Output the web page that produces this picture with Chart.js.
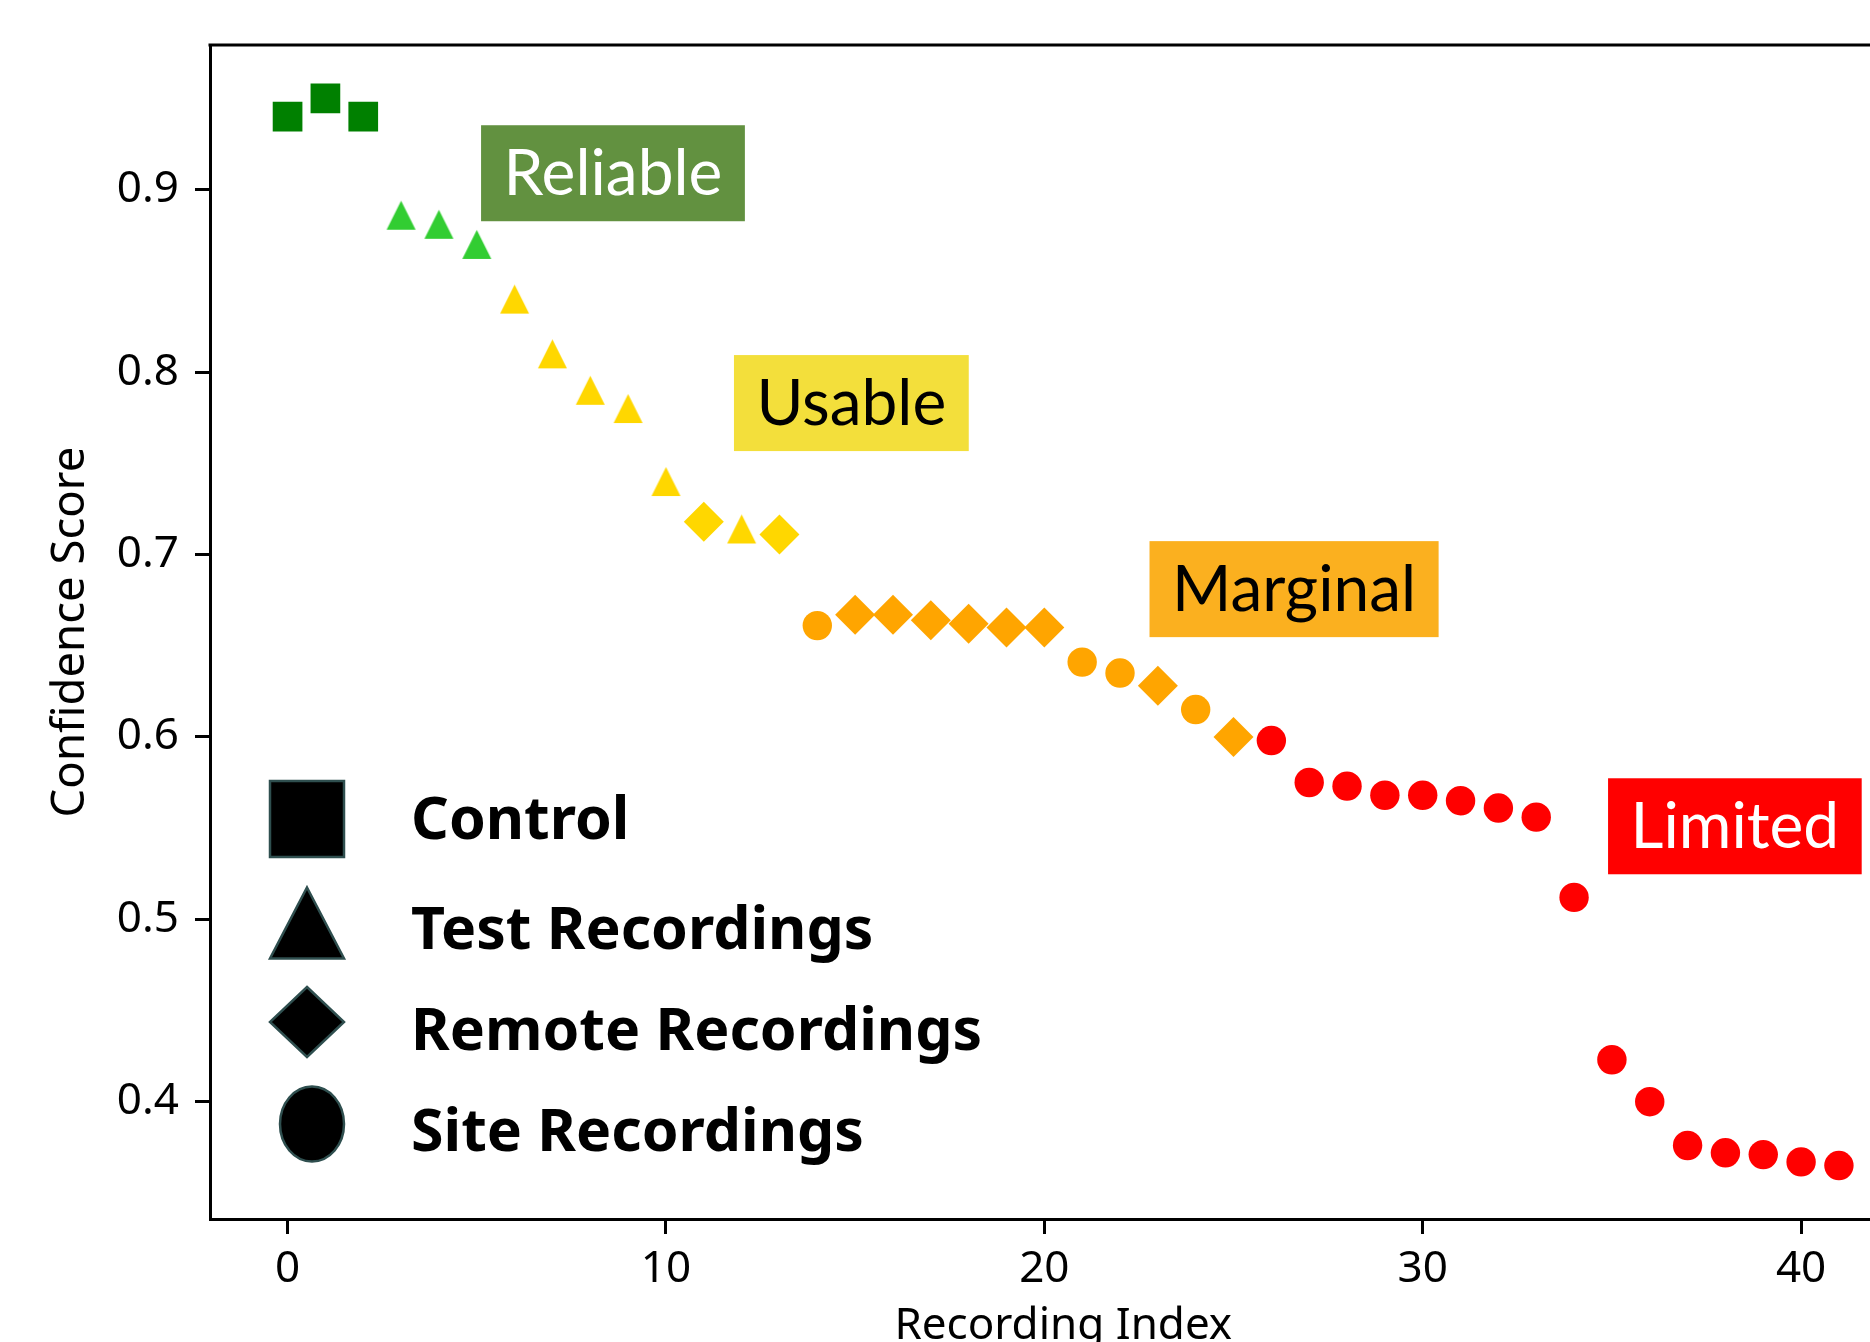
<!DOCTYPE html>
<html>
<head>
<meta charset="utf-8">
<title>Confidence Score by Recording</title>
<script src="https://cdn.jsdelivr.net/npm/chart.js@4.4.1/dist/chart.umd.min.js"></script>
<style>
  html, body { margin: 0; padding: 0; background: #fff; overflow: hidden; }
  #wrap { width: 1930px; height: 1400px; }
</style>
</head>
<body>
<div id="wrap"><canvas id="scoreChart" width="1930" height="1400"></canvas></div>
<script>
// values
const recordingIndex = [0, 1, 2, 3, 4, 5, 6, 7, 8, 9, 10, 11, 12, 13, 14, 15, 16, 17, 18, 19, 20,
  21, 22, 23, 24, 25, 26, 27, 28, 29, 30, 31, 32, 33, 34, 35, 36, 37, 38, 39, 40, 41];

const confidence = [0.940, 0.950, 0.940, 0.886, 0.881, 0.870, 0.840, 0.810, 0.790, 0.780,
  0.740, 0.718, 0.714, 0.711, 0.661, 0.667, 0.667, 0.664, 0.662, 0.660, 0.660,
  0.641, 0.635, 0.628, 0.615, 0.600, 0.598, 0.575, 0.573, 0.568, 0.568,
  0.565, 0.561, 0.556, 0.512, 0.423, 0.400, 0.376, 0.372, 0.371, 0.367, 0.365];

const recordingType = ['Control', 'Control', 'Control',
  'Test', 'Test', 'Test', 'Test', 'Test', 'Test', 'Test', 'Test',
  'Remote', 'Test', 'Remote', 'Site',
  'Remote', 'Remote', 'Remote', 'Remote', 'Remote', 'Remote',
  'Site', 'Site', 'Remote', 'Site', 'Remote',
  'Site', 'Site', 'Site', 'Site', 'Site', 'Site', 'Site', 'Site',
  'Site', 'Site', 'Site', 'Site', 'Site', 'Site', 'Site', 'Site'];

const tier = ['Reliable', 'Reliable', 'Reliable', 'Reliable', 'Reliable', 'Reliable',
  'Usable', 'Usable', 'Usable', 'Usable', 'Usable', 'Usable', 'Usable', 'Usable',
  'Marginal', 'Marginal', 'Marginal', 'Marginal', 'Marginal', 'Marginal',
  'Marginal', 'Marginal', 'Marginal', 'Marginal', 'Marginal', 'Marginal',
  'Limited', 'Limited', 'Limited', 'Limited', 'Limited', 'Limited', 'Limited', 'Limited',
  'Limited', 'Limited', 'Limited', 'Limited', 'Limited', 'Limited', 'Limited', 'Limited'];

const typeKeys = ['Control', 'Test', 'Remote', 'Site'];
const typeLabels = ['Control', 'Test Recordings', 'Remote Recordings', 'Site Recordings'];

// tier label boxes (placed in data coordinates)
const tierNames = ['Reliable', 'Usable', 'Marginal', 'Limited'];
const tierLabelX = [8.6, 14.9, 26.6, 38.25];
const tierLabelY = [0.909, 0.783, 0.681, 0.551];

const xTicks = [0, 10, 20, 30, 40];
const yTicks = [0.4, 0.5, 0.6, 0.7, 0.8, 0.9];

// styles
const controlColor = '#008000';
const tierPointColor = { Reliable: '#32CD32', Usable: '#FFD700', Marginal: '#FFA500', Limited: '#FF0000' };
const tierBoxColor = { Reliable: '#629140', Usable: '#F3DF3B', Marginal: '#FBB01F', Limited: '#FF0000' };
const tierTextColor = { Reliable: '#FFFFFF', Usable: '#000000', Marginal: '#000000', Limited: '#FFFFFF' };

function pointColor(p) {
  return p.type === 'Control' ? controlColor : tierPointColor[p.tier];
}

// matplotlib-like '^' marker (width == height), cached per colour
const triCache = {};
function triangleMarker(color, size) {
  const key = color + size;
  if (triCache[key]) return triCache[key];
  const c = document.createElement('canvas');
  c.width = size + 4;
  c.height = size + 4;
  const g = c.getContext('2d');
  g.beginPath();
  g.moveTo(c.width / 2, 2);
  g.lineTo(2, size + 2);
  g.lineTo(size + 2, size + 2);
  g.closePath();
  g.fillStyle = color;
  g.fill();
  triCache[key] = c;
  return c;
}

const datasets = typeKeys.map((key, k) => {
  const pts = [];
  recordingIndex.forEach((x, i) => {
    if (recordingType[i] === key) pts.push({ x: x, y: confidence[i], type: key, tier: tier[i] });
  });
  const ds = {
    label: typeLabels[k],
    data: pts,
    borderWidth: 0,
    backgroundColor: ctx => pointColor(ctx.raw),
    borderColor: ctx => pointColor(ctx.raw)
  };
  if (key === 'Control') { ds.pointStyle = 'rect'; ds.pointRadius = 21; }
  if (key === 'Test') { ds.pointStyle = ctx => triangleMarker(pointColor(ctx.raw), 29); ds.pointRadius = 15; }
  if (key === 'Remote') { ds.pointStyle = 'rectRot'; ds.pointRadius = 20; }
  if (key === 'Site') { ds.pointStyle = 'circle'; ds.pointRadius = 14.7; }
  return ds;
});

// top frame line (matplotlib box)
const framePlugin = {
  id: 'frame',
  afterDraw(chart) {
    const { ctx, chartArea: a } = chart;
    ctx.save();
    ctx.strokeStyle = '#000';
    ctx.lineWidth = 3;
    ctx.beginPath();
    ctx.moveTo(a.left - 1.5, a.top);
    ctx.lineTo(a.right + 1.5, a.top);
    ctx.moveTo(a.right, a.top);
    ctx.lineTo(a.right, a.bottom);
    ctx.stroke();
    ctx.restore();
  }
};

// coloured tier boxes
const tierBoxPlugin = {
  id: 'tierBoxes',
  afterDatasetsDraw(chart) {
    const { ctx, scales: { x, y } } = chart;
    ctx.save();
    ctx.font = '64px Lato';
    tierNames.forEach((name, i) => {
      const cx = x.getPixelForValue(tierLabelX[i]);
      const cy = y.getPixelForValue(tierLabelY[i]);
      const w = ctx.measureText(name).width + 45;
      const h = 96;
      ctx.fillStyle = tierBoxColor[name];
      ctx.fillRect(cx - w / 2, cy - h / 2, w, h);
      ctx.fillStyle = tierTextColor[name];
      ctx.textAlign = 'center';
      ctx.textBaseline = 'alphabetic';
      ctx.fillText(name, cx, cy + 22);
    });
    ctx.restore();
  }
};

// legend drawn inside the axes, lower left
const legendPlugin = {
  id: 'innerLegend',
  afterDraw(chart) {
    const { ctx, chartArea: a } = chart;
    const mx = a.left + 97;
    const tx = a.left + 201;
    const markerY = [819, 923, 1022, 1124];
    const textY = [818, 928, 1029, 1130];
    ctx.save();
    ctx.fillStyle = '#000';
    ctx.strokeStyle = '#2F4F4F';
    ctx.lineWidth = 2.5;
    chart.data.datasets.forEach((ds, i) => {
      const cy = markerY[i];
      ctx.beginPath();
      if (i === 0) {
        ctx.rect(mx - 37, cy - 38, 74, 76);
      } else if (i === 1) {
        ctx.moveTo(mx, cy - 35.5);
        ctx.lineTo(mx + 37, cy + 35.5);
        ctx.lineTo(mx - 37, cy + 35.5);
        ctx.closePath();
      } else if (i === 2) {
        ctx.moveTo(mx, cy - 35);
        ctx.lineTo(mx + 37, cy);
        ctx.lineTo(mx, cy + 35);
        ctx.lineTo(mx - 37, cy);
        ctx.closePath();
      } else {
        ctx.ellipse(mx + 5, cy, 32, 37.5, 0, 0, Math.PI * 2);
      }
      ctx.fill();
      ctx.stroke();
      ctx.font = 'bold 59px "Noto Sans"';
      ctx.textAlign = 'left';
      ctx.textBaseline = 'alphabetic';
      ctx.fillText(ds.label, tx, textY[i] + 21);
    });
    ctx.restore();
  }
};

const tickFont = { family: '"Noto Sans", sans-serif', size: 44 };
const xTitleFont = { family: '"Noto Sans", sans-serif', size: 44 };
const yTitleFont = { family: '"Noto Sans", sans-serif', size: 45.5 };

new Chart(document.getElementById('scoreChart').getContext('2d'), {
  type: 'scatter',
  data: { datasets: datasets },
  options: {
    responsive: false,
    animation: false,
    events: [],
    layout: { autoPadding: false, padding: { top: 45, right: 13.5, left: 0, bottom: 0 } },
    plugins: {
      legend: { display: false },
      tooltip: { enabled: false }
    },
    scales: {
      x: {
        type: 'linear',
        min: -2.05,
        max: 43.05,
        afterBuildTicks: s => { s.ticks = xTicks.map(v => ({ value: v })); },
        afterFit: s => { s.height = 181; s.paddingLeft = 0; s.paddingRight = 0; },
        ticks: { font: tickFont, color: '#000', padding: 9, maxRotation: 0 },
        grid: { display: true, drawOnChartArea: false, drawTicks: true, tickLength: 15, tickWidth: 3, tickColor: '#000' },
        border: { display: true, color: '#000', width: 3 },
        title: { display: true, text: 'Recording Index', font: xTitleFont, color: '#000', padding: { top: 0, bottom: 47 } }
      },
      y: {
        type: 'linear',
        min: 0.3357,
        max: 0.9793,
        afterBuildTicks: s => { s.ticks = yTicks.map(v => ({ value: v })); },
        afterFit: s => { s.width = 210; },
        ticks: { font: tickFont, color: '#000', padding: 16, callback: v => v.toFixed(1) },
        grid: { display: true, drawOnChartArea: false, drawTicks: true, tickLength: 15, tickWidth: 3, tickColor: '#000' },
        border: { display: true, color: '#000', width: 3 },
        title: { display: true, text: 'Confidence Score', font: yTitleFont, color: '#000', padding: { top: 44, bottom: 0 } }
      }
    }
  },
  plugins: [framePlugin, tierBoxPlugin, legendPlugin]
});
</script>
</body>
</html>
